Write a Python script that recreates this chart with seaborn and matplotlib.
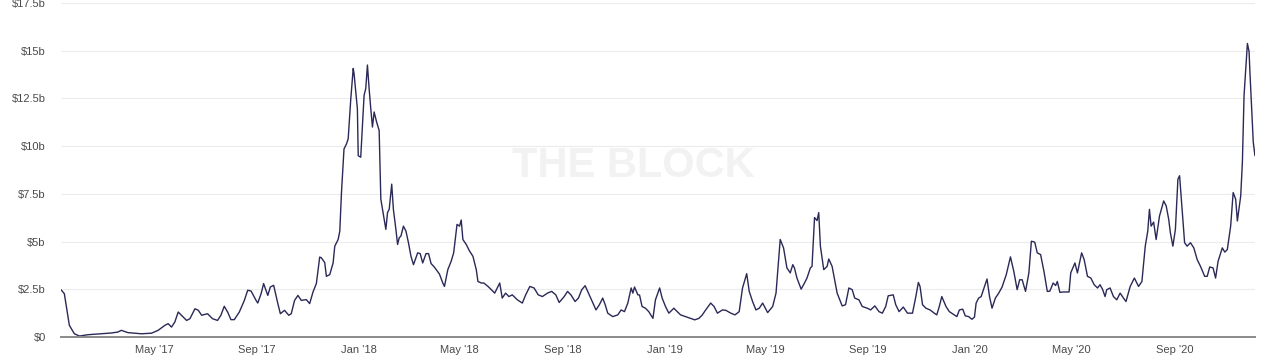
import matplotlib
matplotlib.use("Agg")
import matplotlib.pyplot as plt
import matplotlib.ticker as mticker
import seaborn as sns
import pandas as pd

# days since 2017-01-01
days = [9, 13, 19, 25, 31, 41, 69, 77, 81, 89, 97, 105, 117, 125, 133, 137, 141, 145, 149, 155,
        159, 163, 169, 173, 177, 184, 190, 196, 200, 204, 208, 212, 216, 222, 228, 232, 236, 242, 244, 248,
        251, 256, 259, 263, 268, 271, 276, 281, 284, 288, 292, 296, 302, 306, 310, 314, 318, 320, 324, 326,
        330, 334, 336, 340, 342, 344, 347, 350, 352, 355, 358, 359, 363, 364, 367, 368, 371, 373, 375, 377,
        379, 381, 383, 386, 389, 391, 395, 397, 399, 401, 404, 406, 409, 411, 413, 415, 418, 421, 424, 427,
        430, 435, 438, 441, 445, 448, 451, 455, 461, 465, 467, 471, 475, 478, 482, 485, 487, 489, 493, 497,
        501, 505, 507, 511, 514, 519, 523, 527, 533, 536, 540, 544, 548, 554, 560, 564, 569, 574, 579, 584,
        590, 595, 600, 604, 610, 614, 618, 623, 627, 631, 635, 639, 643, 648, 652, 656, 659, 662, 668, 674,
        678, 682, 686, 690, 692, 694, 698, 700, 703, 707, 711, 716, 719, 724, 727, 731, 735, 741, 745, 749,
        755, 761, 766, 771, 775, 779, 785, 789, 793, 799, 803, 809, 814, 819, 823, 828, 831, 835, 839, 843,
        847, 853, 859, 863, 868, 872, 876, 880, 883, 885, 888, 893, 897, 900, 904, 906, 909, 912, 914, 916,
        920, 924, 926, 930, 936, 942, 946, 950, 954, 957, 962, 966, 972, 976, 981, 986, 990, 994, 997, 1003,
        1006, 1010, 1015, 1020, 1026, 1030, 1033, 1035, 1038, 1042, 1047, 1052, 1055, 1058, 1061, 1066, 1070, 1076, 1079, 1082,
        1086, 1089, 1093, 1097, 1100, 1102, 1105, 1108, 1112, 1115, 1118, 1121, 1125, 1129, 1133, 1138, 1143, 1147, 1151, 1154,
        1157, 1161, 1165, 1168, 1172, 1175, 1179, 1183, 1187, 1190, 1194, 1197, 1199, 1202, 1206, 1213, 1215, 1220, 1223, 1228,
        1231, 1235, 1239, 1243, 1247, 1250, 1253, 1256, 1258, 1262, 1266, 1270, 1274, 1278, 1281, 1286, 1291, 1296, 1300, 1304,
        1307, 1309, 1311, 1314, 1317, 1321, 1326, 1329, 1332, 1334, 1337, 1340, 1343, 1345, 1348, 1351, 1354, 1358, 1362, 1366,
        1370, 1375, 1378, 1381, 1385, 1388, 1391, 1396, 1399, 1402, 1406, 1409, 1412, 1414, 1418, 1420, 1422, 1426, 1428, 1429,
        1433, 1435]

# volume in $ billions
volume = [2.48, 2.27, 0.61, 0.17, 0.05, 0.12, 0.21, 0.26, 0.35, 0.23, 0.20, 0.17, 0.20, 0.35, 0.61, 0.70, 0.52, 0.79, 1.31, 1.05,
          0.87, 0.96, 1.48, 1.40, 1.14, 1.22, 0.96, 0.87, 1.14, 1.61, 1.31, 0.91, 0.91, 1.31, 1.92, 2.45, 2.41, 1.92, 1.78, 2.27,
          2.80, 2.18, 2.62, 2.71, 1.75, 1.22, 1.40, 1.14, 1.22, 1.92, 2.18, 1.92, 1.96, 1.75, 2.36, 2.80, 4.19, 4.15, 3.90, 3.18,
          3.27, 3.88, 4.76, 5.11, 5.55, 7.57, 9.85, 10.12, 10.38, 12.40, 14.07, 13.81, 11.96, 9.50, 9.42, 10.21, 12.66, 13.02, 14.25, 13.02,
          11.96, 11.00, 11.79, 11.26, 10.82, 7.22, 6.17, 5.64, 6.52, 6.69, 8.01, 6.69, 5.64, 4.85, 5.20, 5.29, 5.81, 5.55, 4.94, 4.23,
          3.79, 4.41, 4.37, 3.88, 4.37, 4.37, 3.85, 3.66, 3.30, 2.83, 2.65, 3.53, 3.97, 4.41, 5.90, 5.81, 6.13, 5.11, 4.85, 4.50,
          4.23, 3.53, 2.91, 2.83, 2.83, 2.65, 2.48, 2.30, 2.83, 2.04, 2.30, 2.12, 2.21, 1.95, 1.78, 2.21, 2.65, 2.57, 2.21, 2.12,
          2.30, 2.39, 2.21, 1.81, 2.12, 2.39, 2.21, 1.86, 2.04, 2.48, 2.69, 2.30, 1.90, 1.42, 1.69, 2.04, 1.69, 1.25, 1.07, 1.16,
          1.42, 1.33, 1.78, 2.57, 2.30, 2.62, 2.21, 2.20, 1.60, 1.51, 1.33, 0.98, 1.95, 2.57, 2.04, 1.60, 1.25, 1.51, 1.33, 1.16,
          1.07, 0.98, 0.90, 0.98, 1.16, 1.42, 1.78, 1.60, 1.25, 1.42, 1.40, 1.25, 1.16, 1.33, 2.57, 3.32, 2.39, 1.86, 1.42, 1.51,
          1.78, 1.28, 1.60, 2.30, 5.11, 4.67, 3.62, 3.36, 3.79, 3.62, 3.09, 2.51, 2.83, 3.09, 3.62, 3.70, 6.26, 6.10, 6.52, 4.76,
          3.53, 3.70, 4.09, 3.70, 2.30, 1.63, 1.69, 2.57, 2.48, 2.04, 1.95, 1.60, 1.51, 1.42, 1.63, 1.33, 1.25, 1.60, 2.16, 2.21,
          1.69, 1.33, 1.57, 1.25, 1.25, 2.12, 2.86, 2.65, 1.69, 1.51, 1.42, 1.25, 1.16, 1.60, 2.12, 1.60, 1.33, 1.16, 1.07, 1.42,
          1.46, 1.11, 1.07, 0.93, 1.04, 1.78, 2.04, 2.12, 2.65, 3.04, 2.12, 1.51, 2.04, 2.30, 2.62, 3.27, 4.20, 3.44, 2.48, 3.00,
          3.00, 2.39, 3.36, 5.02, 4.97, 4.41, 4.32, 3.44, 2.39, 2.40, 2.83, 2.70, 2.91, 2.34, 2.36, 2.36, 3.36, 3.88, 3.36, 4.41,
          4.06, 3.18, 3.09, 2.74, 2.57, 2.74, 2.50, 2.12, 2.48, 2.57, 2.12, 1.95, 2.30, 2.04, 1.86, 2.65, 3.09, 2.65, 2.91, 4.76,
          5.55, 6.69, 5.81, 6.02, 5.11, 6.34, 7.13, 6.87, 6.17, 5.46, 4.76, 5.64, 8.27, 8.45, 6.69, 4.94, 4.76, 4.94, 4.67, 4.06,
          3.70, 3.18, 3.18, 3.67, 3.62, 3.09, 3.97, 4.67, 4.45, 4.58, 5.81, 7.57, 7.22, 6.08, 7.39, 9.15, 12.66, 15.38, 14.95, 13.89,
          10.21, 9.50]

tick_dates = ["2017-05-01", "2017-09-01", "2018-01-01", "2018-05-01", "2018-09-01", "2019-01-01",
              "2019-05-01", "2019-09-01", "2020-01-01", "2020-05-01", "2020-09-01"]
tick_labels = ["May '17", "Sep '17", "Jan '18", "May '18", "Sep '18", "Jan '19",
               "May '19", "Sep '19", "Jan '20", "May '20", "Sep '20"]

df = pd.DataFrame({
    "date": pd.Timestamp("2017-01-01") + pd.to_timedelta(days, unit="D"),
    "volume": volume,
})

sns.set_style("white")
plt.rcParams["font.family"] = ["Liberation Sans", "DejaVu Sans"]

fig = plt.figure(figsize=(12.68, 3.62), dpi=100)
ax = fig.add_axes([0.0481, 0.069, 0.9416, 0.9227])

sns.lineplot(data=df, x="date", y="volume", ax=ax, color="#2a2957", linewidth=1.0)

ax.set_xlim(df["date"].iloc[0], df["date"].iloc[-1])
ax.set_ylim(0, 17.5)
ax.set_yticks([0, 2.5, 5, 7.5, 10, 12.5, 15, 17.5])
ax.yaxis.set_major_formatter(mticker.FuncFormatter(
    lambda v, p: "$0" if v == 0 else f"${v:g}b"))
ax.set_xticks(pd.to_datetime(tick_dates))
ax.set_xticklabels(tick_labels)

ax.grid(axis="y", color="#ececec", linewidth=0.8)
ax.grid(axis="x", visible=False)
for side in ["top", "right", "left"]:
    ax.spines[side].set_visible(False)
ax.spines["bottom"].set_color("#8a8a8a")
ax.spines["bottom"].set_linewidth(1.4)
ax.tick_params(axis="both", length=0, labelsize=8, labelcolor="#4a4a4a")
ax.tick_params(axis="y", pad=11)
ax.tick_params(axis="x", pad=6)
ax.set_xlabel("")
ax.set_ylabel("")

# watermark
ax.text(0.479, 0.512, "THE BLOCK", transform=ax.transAxes, ha="center", va="center",
        fontsize=30, fontweight="bold", color="#f2f2f2", zorder=0)

fig.savefig("out.png", dpi=100)
